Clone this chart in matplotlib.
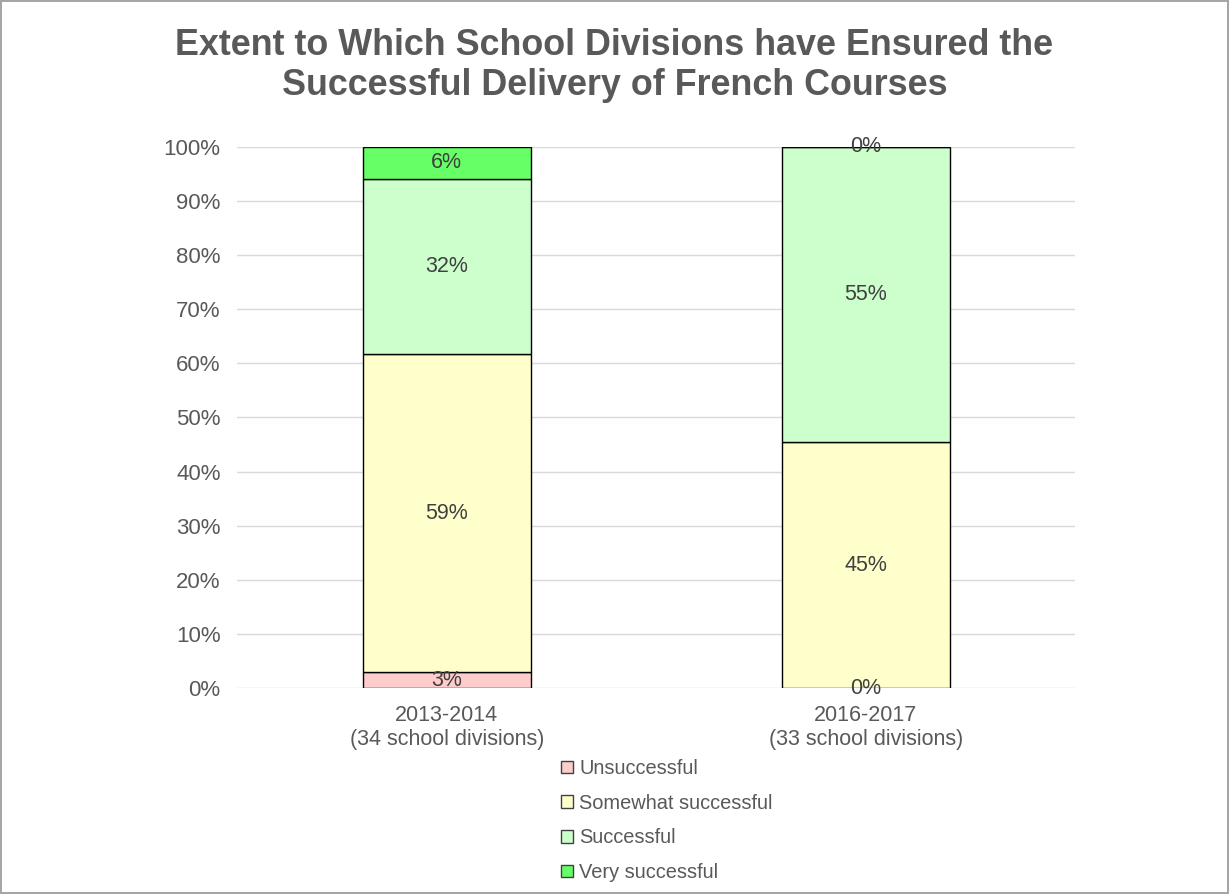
import matplotlib.pyplot as plt
from matplotlib.patches import Patch

plt.rcParams['font.family'] = ['Liberation Sans', 'DejaVu Sans']

years = ['2013-2014\n(34 school divisions)', '2016-2017\n(33 school divisions)']
categories = ['Unsuccessful', 'Somewhat successful', 'Successful', 'Very successful']
colors = ['#FFCCCC', '#FFFFCC', '#CCFFCC', '#66FF66']

# percent of divisions per category, one list per period
pct_2013 = [2.9, 58.8, 32.4, 5.9]
pct_2016 = [0.0, 45.45, 54.55, 0.0]
series = [pct_2013, pct_2016]

fig = plt.figure(figsize=(12.29, 8.94), dpi=100)
fig.patch.set_edgecolor('#A6A6A6')
fig.patch.set_linewidth(1.5)
ax = fig.add_axes([0.193, 0.2304, 0.682, 0.6052])

text_col = '#404040'
bottoms = [0.0, 0.0]
for ci, cat in enumerate(categories):
    vals = [s[ci] for s in series]
    ax.bar(range(len(years)), vals, width=0.4, bottom=bottoms, color=colors[ci],
           edgecolor='black', linewidth=1, zorder=3)
    for xi, v in enumerate(vals):
        ax.text(xi, bottoms[xi] + v / 2, f'{round(v):.0f}%', ha='center', va='center',
                fontsize=15.5, color=text_col, zorder=4, clip_on=False)
    bottoms = [b + v for b, v in zip(bottoms, vals)]

ax.set_xlim(-0.5, 1.5)
ax.set_ylim(0, 100)
ax.set_yticks(range(0, 101, 10))
ax.set_yticklabels([f'{t}%' for t in range(0, 101, 10)], fontsize=16, color='#595959')
ax.set_xticks(range(len(years)))
ax.set_xticklabels(years, fontsize=15.5, color='#595959')
ax.tick_params(length=0, pad=12)
ax.tick_params(axis='x', pad=12)
ax.yaxis.grid(True, color='#D9D9D9', linewidth=1, zorder=0)
for sp in ax.spines.values():
    sp.set_visible(False)

fig.suptitle('Extent to Which School Divisions have Ensured the\nSuccessful Delivery of French Courses',
             fontsize=25.8, fontweight='bold', color='#595959', y=0.969, linespacing=1.2)

handles = [Patch(facecolor=c, edgecolor='#404040', linewidth=1) for c in colors]
fig.legend(handles, categories, loc='upper left', bbox_to_anchor=(0.442, 0.171), ncol=1,
           frameon=False, fontsize=14.4, handlelength=0.6, handleheight=0.6,
           handletextpad=0.3, labelspacing=0.78, labelcolor='#595959')

fig.savefig('out.png', dpi=100)
